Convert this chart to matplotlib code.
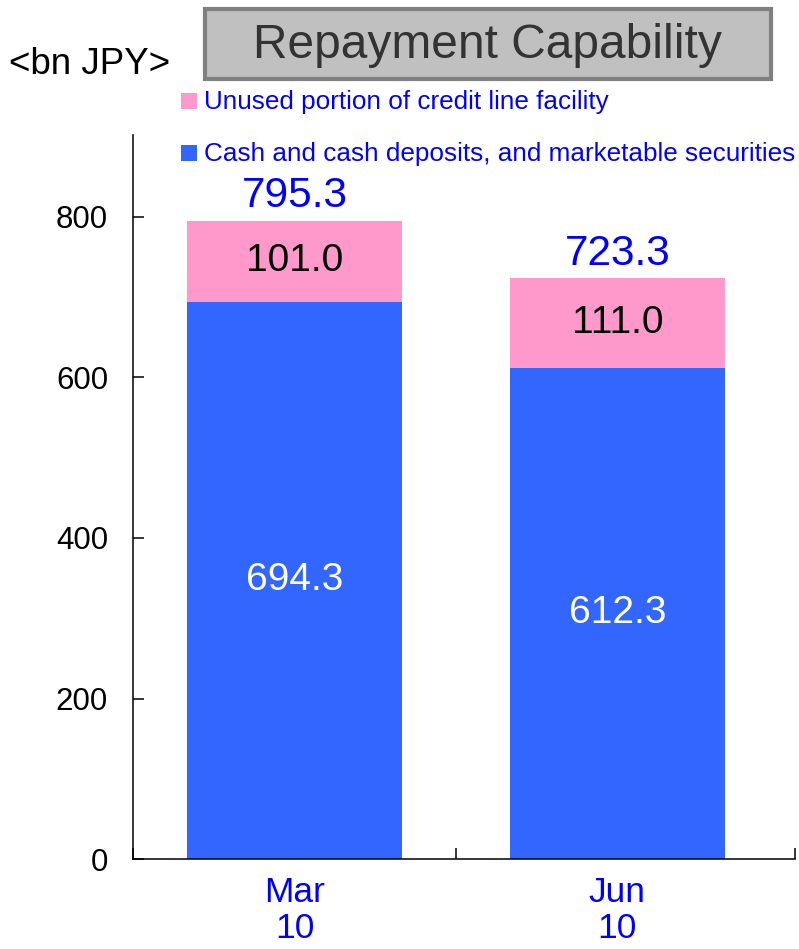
import matplotlib
matplotlib.use('Agg')

import matplotlib.pyplot as plt
from matplotlib.patches import Rectangle

plt.rcParams['font.family'] = ['Liberation Sans', 'DejaVu Sans']

# ---------------------------
# DATA
# ---------------------------
periods = ["Mar\n10", "Jun\n10"]
cash = [694.3, 612.3]
credit_line = [101.0, 111.0]
totals = [795.3, 723.3]

series_names = ["Unused portion of credit line facility",
                "Cash and cash deposits, and marketable securities"]

BLUE = "#3366FF"
PINK = "#FF99CC"
TEXT_BLUE = "#0000FF"

# ---------------------------
# FIGURE
# ---------------------------
fig = plt.figure(figsize=(7.99, 9.49), dpi=100)
ax = fig.add_axes([0.1665, 0.0948, 0.8285, 0.7629])

x = [0, 1]
width = 0.665

ax.bar(x, cash, width, color=BLUE)
ax.bar(x, credit_line, width, bottom=cash, color=PINK)

for xi, c, p, t in zip(x, cash, credit_line, totals):
    ax.text(xi, c / 2, f"{c:.1f}", ha='center', va='center',
            color='white', fontsize=28)
    ax.text(xi, c + p / 2, f"{p:.1f}", ha='center', va='center',
            color='black', fontsize=28)
    ax.text(xi, t + 6, f"{t:.1f}", ha='center', va='bottom',
            color=TEXT_BLUE, fontsize=30.5)

ax.set_xlim(-0.5, 1.55)
ax.set_ylim(0, 902)
ax.set_yticks([0, 200, 400, 600, 800])

# ticks at category boundaries, labels under the bars
ax.set_xticks([-0.5, 0.5, 1.55])
ax.set_xticklabels([])
ax.set_xticks(x, minor=True)
ax.set_xticklabels(periods, minor=True, color=TEXT_BLUE, fontsize=25.5,
                   linespacing=1.12)
ax.tick_params(axis='x', which='minor', length=0, pad=12)
ax.tick_params(axis='x', which='major', direction='in', length=8,
               width=1.1)
ax.tick_params(axis='y', direction='in', length=8, width=1.1,
               labelsize=22.5, pad=18)

for side in ('top', 'right'):
    ax.spines[side].set_visible(False)
for side in ('left', 'bottom'):
    ax.spines[side].set_linewidth(1.1)

# ---------------------------
# TITLE BOX + UNIT
# ---------------------------
W, H = 799, 949
fig.add_artist(Rectangle((205 / W, 1 - 79 / H), 566 / W, 70 / H,
                         transform=fig.transFigure, facecolor="#C0C0C0",
                         edgecolor="#808080", linewidth=3))
fig.text(487 / W, 1 - 46 / H, "Repayment Capability", ha='center',
         va='center', fontsize=34.5, color="#333333")
fig.text(9 / W, 1 - 64 / H, "<bn JPY>", ha='left', va='center',
         fontsize=26.5)

# ---------------------------
# LEGEND
# ---------------------------
for name, color, yc in zip(series_names, [PINK, BLUE], [101, 153]):
    fig.add_artist(Rectangle((181 / W, 1 - (yc + 8) / H), 16 / W, 16 / H,
                             transform=fig.transFigure, facecolor=color,
                             edgecolor='none'))
    fig.text(204 / W, 1 - (yc + 1) / H, name, ha='left', va='center',
             fontsize=18.8, color=TEXT_BLUE)

fig.savefig("out.png", dpi=100)
